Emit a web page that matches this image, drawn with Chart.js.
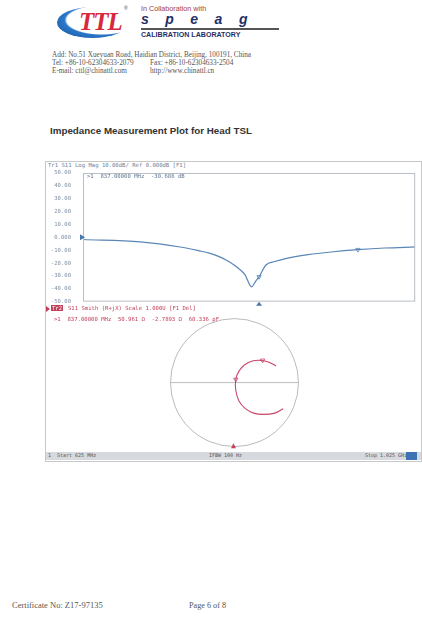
<!DOCTYPE html>
<html lang="en">
<head>
    <meta charset="UTF-8">
    <title>Impedance Measurement Plot for Head TSL</title>
    <script src="https://cdn.jsdelivr.net/npm/chart.js"></script>
    <style>
        body { margin: 0; background: #fff; }
        #page { position: relative; width: 422px; height: 639px; overflow: hidden; background: #fff; }
        .abs { position: absolute; white-space: nowrap; }
        canvas { display: block; }
        .serif { font-family: "Liberation Serif", serif; color: #555; }
        .mono { font-family: "DejaVu Sans Mono", monospace; font-size: 5.6px; }
        #frame { left: 45px; top: 161px; width: 375px; height: 299px; border: 1px solid #c8c8c8; }
        #logo { left: 57px; top: 7px; width: 71px; height: 31px; border-radius: 50%;
                background: radial-gradient(ellipse at 63% 42%, #fff 55%, #2a78c8 59%, #1d5fae 82%); }
        #status { left: 46px; top: 452px; width: 375px; height: 8px; background: #d6d9dd; }
    </style>
</head>
<body>
<div id="page">
    <!-- header -->
    <div id="logo" class="abs"></div>
    <div class="abs" style="left:79px;top:8px;font:italic bold 25px 'Liberation Serif',serif;color:#d8283c;letter-spacing:-1px;">TTL</div>
    <div class="abs" style="left:124px;top:5px;font:5px 'Liberation Sans',sans-serif;color:#444;">®</div>
    <div class="abs" style="left:141px;top:4px;font:7.2px 'Liberation Sans',sans-serif;color:#a0413f;">In Collaboration with</div>
    <div class="abs" style="left:141px;top:11px;font:italic bold 14px 'Liberation Sans',sans-serif;color:#1f2f66;letter-spacing:16.5px;">speag</div>
    <div class="abs" style="left:141px;top:28px;width:138px;height:2px;background:#555;"></div>
    <div class="abs" style="left:141px;top:31px;font:bold 7.1px 'Liberation Sans',sans-serif;color:#1f2f66;">CALIBRATION LABORATORY</div>
    <div class="abs serif" style="left:52px;top:51px;font-size:7.2px;">Add: No.51 Xueyuan Road, Haidian District, Beijing, 100191, China</div>
    <div class="abs serif" style="left:52px;top:59px;font-size:7.2px;">Tel: +86-10-62304633-2079</div>
    <div class="abs serif" style="left:150px;top:59px;font-size:7.2px;">Fax: +86-10-62304633-2504</div>
    <div class="abs serif" style="left:52px;top:67px;font-size:7.2px;">E-mail: cttl@chinattl.com</div>
    <div class="abs serif" style="left:150px;top:67px;font-size:7.2px;">http://www.chinattl.cn</div>

    <div class="abs" style="left:50px;top:125px;font:bold 9.8px 'Liberation Sans',sans-serif;color:#333;">Impedance Measurement Plot for Head TSL</div>

    <!-- analyzer screen -->
    <div id="frame" class="abs"></div>
    <div class="abs mono" style="left:48px;top:162px;color:#6f8196;">Tr1 S11 Log Mag 10.00dB/ Ref 0.000dB [F1]</div>
    <canvas id="smith" class="abs" width="374" height="148" style="left:46px;top:303px;"></canvas>
    <canvas id="logMag" class="abs" width="374" height="147" style="left:46px;top:162px;"></canvas>
    <div class="abs mono" style="left:87px;top:173px;color:#5d7590;">&gt;1&nbsp;&nbsp;837.00000 MHz&nbsp;&nbsp;-30.686 dB</div>

    <div class="abs" style="left:46px;top:306px;width:0;height:0;border-left:4px solid #c0405a;border-top:3px solid transparent;border-bottom:3px solid transparent;"></div>
    <div class="abs mono" style="left:51px;top:305px;background:#c0405a;color:#fff;padding:0 1px;">Tr2</div>
    <div class="abs mono" style="left:68px;top:305px;color:#c0405a;">S11 Smith (R+jX) Scale 1.000U [F1 Del]</div>
    <div class="abs mono" style="left:54px;top:316px;color:#c0405a;">&gt;1&nbsp;&nbsp;837.00000 MHz&nbsp;&nbsp;50.961 Ω&nbsp;&nbsp;-2.7893 Ω&nbsp;&nbsp;68.336 pF</div>

    <div id="status" class="abs"></div>
    <div class="abs mono" style="left:48px;top:452px;font-size:5px;color:#555;">1&nbsp;&nbsp;Start 625 MHz</div>
    <div class="abs mono" style="left:209px;top:452px;font-size:5px;color:#555;">IFBW 100 Hz</div>
    <div class="abs mono" style="left:365px;top:452px;font-size:5px;color:#555;">Stop 1.025 GHz</div>
    <div class="abs" style="left:406px;top:452px;width:11px;height:8px;background:#3f72b5;"></div>

    <!-- footer -->
    <div class="abs serif" style="left:12px;top:600px;font-size:8.5px;">Certificate No: Z17-97135</div>
    <div class="abs serif" style="left:189px;top:601px;font-size:8.2px;">Page 6 of 8</div>
</div>

<script>
    // S11 log magnitude trace (MHz, dB)
    const freqMHz = [625, 694, 742, 765, 777, 789, 801, 812, 820, 828, 833, 837, 845, 856, 869, 896, 924, 956, 988, 1025];
    const s11dB   = [-1.7, -3.5, -7.5, -10.5, -12.3, -15.0, -19.0, -24.0, -29.0, -38.5, -34.0, -30.7, -21.7, -18.8, -16.5, -13.5, -11.4, -9.6, -8.3, -7.5];
    const yTicks  = [50, 40, 30, 20, 10, 0, -10, -20, -30, -40, -50];

    // markers on the log mag trace
    const markerFreq = [837, 956];
    const markerDB   = [-30.7, -9.6];

    // Smith chart trace (reflection coefficient, real / imaginary)
    const gammaRe = [0.76, 0.63, 0.45, 0.30, 0.17, 0.07, 0.02, 0.02, 0.07, 0.16, 0.28, 0.41, 0.54, 0.65];
    const gammaIm = [-0.41, -0.48, -0.50, -0.48, -0.41, -0.29, -0.12, 0.05, 0.18, 0.28, 0.34, 0.35, 0.32, 0.26];
    const smithMarkRe = [0.02, 0.44];
    const smithMarkIm = [0.05, 0.35];

    const blue = '#5a86b6';
    const red = '#c8466a';
    const mono = 'DejaVu Sans Mono';

    const logMagDecor = {
        id: 'logMagDecor',
        afterDraw(chart) {
            const { ctx, chartArea: a, scales: { x, y } } = chart;
            ctx.save();
            ctx.strokeStyle = '#b9bec4';
            ctx.lineWidth = 1;
            ctx.strokeRect(a.left + 0.5, a.top + 0.5, a.width - 1, a.height - 1);
            // reference level arrow
            const y0 = y.getPixelForValue(0);
            ctx.fillStyle = '#4a78ad';
            ctx.beginPath();
            ctx.moveTo(a.left - 3, y0 - 3); ctx.lineTo(a.left + 2, y0); ctx.lineTo(a.left - 3, y0 + 3);
            ctx.fill();
            // active marker stimulus arrow
            const xm = x.getPixelForValue(markerFreq[0]);
            ctx.beginPath();
            ctx.moveTo(xm - 3, a.bottom + 4); ctx.lineTo(xm, a.bottom); ctx.lineTo(xm + 3, a.bottom + 4);
            ctx.fill();
            ctx.restore();
        }
    };

    new Chart(document.getElementById('logMag'), {
        type: 'line',
        data: {
            datasets: [
                { data: freqMHz.map((f, i) => ({ x: f, y: s11dB[i] })), borderColor: blue, borderWidth: 1.2,
                  pointRadius: 0, cubicInterpolationMode: 'monotone' },
                { data: markerFreq.map((f, i) => ({ x: f, y: markerDB[i] })), showLine: false,
                  pointStyle: 'triangle', rotation: 180, pointRadius: 2.5, borderColor: blue, borderWidth: 0.8,
                  backgroundColor: 'transparent' }
            ]
        },
        options: {
            responsive: false, animation: false,
            layout: { padding: { top: 11, right: 2, bottom: 1, left: 0 } },
            plugins: { legend: { display: false }, tooltip: { enabled: false } },
            scales: {
                x: { type: 'linear', min: 625, max: 1025, display: false },
                y: {
                    min: -50, max: 50,
                    afterBuildTicks: s => { s.ticks = yTicks.map(v => ({ value: v })); },
                    afterFit: s => { s.width = 37; },
                    grid: { display: false },
                    border: { display: false },
                    ticks: {
                        color: '#7f90a4', padding: 4,
                        font: { family: mono, size: 5.6 },
                        callback: v => v === 0 ? '0.000' : v.toFixed(2)
                    }
                }
            }
        },
        plugins: [logMagDecor]
    });

    const smithDecor = {
        id: 'smithDecor',
        beforeDatasetsDraw(chart) {
            const { ctx, scales: { x, y } } = chart;
            const cx = x.getPixelForValue(0), cy = y.getPixelForValue(0);
            const r = x.getPixelForValue(1) - cx;
            ctx.save();
            ctx.strokeStyle = '#a9a9a9';
            ctx.lineWidth = 0.8;
            ctx.beginPath();
            ctx.arc(cx, cy, r, 0, Math.PI * 2);
            ctx.stroke();
            ctx.beginPath();
            ctx.moveTo(x.getPixelForValue(-1), cy);
            ctx.lineTo(x.getPixelForValue(1), cy);
            ctx.stroke();
            // marker stimulus arrow at the bottom
            const yb = y.getPixelForValue(-1);
            ctx.fillStyle = '#c8405a';
            ctx.beginPath();
            ctx.moveTo(cx - 3.5, yb + 2); ctx.lineTo(cx - 1, yb - 3); ctx.lineTo(cx + 1.5, yb + 2);
            ctx.fill();
            ctx.restore();
        }
    };

    new Chart(document.getElementById('smith'), {
        type: 'scatter',
        data: {
            datasets: [
                { data: gammaRe.map((g, i) => ({ x: g, y: gammaIm[i] })), showLine: true, tension: 0.4,
                  borderColor: red, borderWidth: 1.1, pointRadius: 0 },
                { data: smithMarkRe.map((g, i) => ({ x: g, y: smithMarkIm[i] })), pointStyle: 'triangle',
                  rotation: 180, pointRadius: 2.5, borderColor: red, borderWidth: 0.8, backgroundColor: 'transparent' }
            ]
        },
        options: {
            responsive: false, animation: false,
            layout: { padding: { left: 124.5, right: 121.5, top: 16, bottom: 4 } },
            plugins: { legend: { display: false }, tooltip: { enabled: false } },
            scales: {
                x: { min: -1, max: 1, display: false },
                y: { min: -1, max: 1, display: false }
            }
        },
        plugins: [smithDecor]
    });
</script>
</body>
</html>
